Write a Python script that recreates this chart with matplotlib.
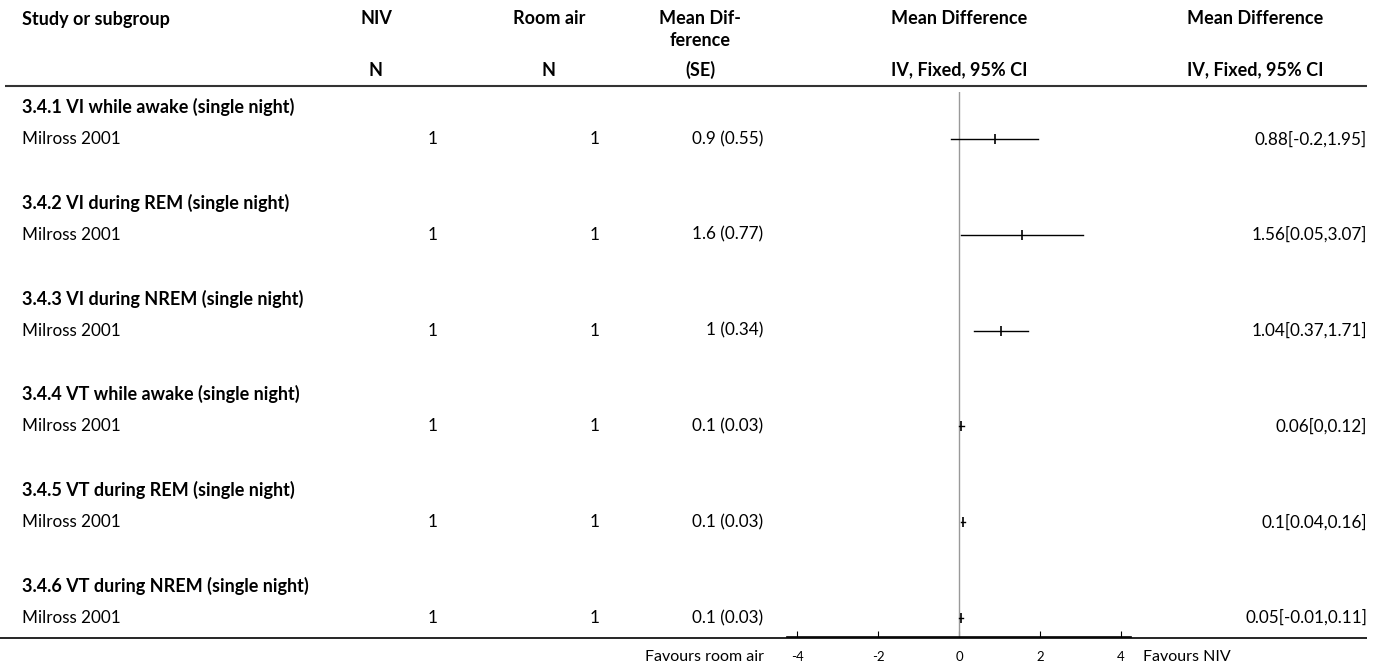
import matplotlib
matplotlib.use('Agg')
import matplotlib.pyplot as plt

# Data
subgroups = [
    "3.4.1 VI while awake (single night)",
    "3.4.2 VI during REM (single night)",
    "3.4.3 VI during NREM (single night)",
    "3.4.4 VT while awake (single night)",
    "3.4.5 VT during REM (single night)",
    "3.4.6 VT during NREM (single night)",
]
studies = ["Milross 2001"] * 6
niv_n = [1, 1, 1, 1, 1, 1]
room_n = [1, 1, 1, 1, 1, 1]
md_se_text = ["0.9 (0.55)", "1.6 (0.77)", "1 (0.34)", "0.1 (0.03)", "0.1 (0.03)", "0.1 (0.03)"]
md = [0.88, 1.56, 1.04, 0.06, 0.1, 0.05]
ci_lo = [-0.2, 0.05, 0.37, 0, 0.04, -0.01]
ci_hi = [1.95, 3.07, 1.71, 0.12, 0.16, 0.11]
xticks = [-4, -2, 0, 2, 4]

plt.rcParams['font.family'] = ['Lato', 'DejaVu Sans']
FS = 12.3   # regular text
FB = 13.0   # bold text

W, H = 1375, 669
fig = plt.figure(figsize=(W / 100, H / 100), dpi=100)

# row geometry (pixels)
TOP = 107.0
LINE = 31.93


def L(px):
    return (px - TOP) / LINE


# table axes covering whole figure: x in pixels, y in "line" units
ax = fig.add_axes([0, 0, 1, 1])
ax.set_xlim(0, W)
ax.set_ylim(L(H), L(0))
ax.axis('off')

# header
hy1, hy2, hy3 = L(19), L(41), L(70)
hdr = dict(va='center', fontsize=FB, fontweight='bold')
ax.text(22, hy1, "Study or subgroup", ha='left', **hdr)
ax.text(376, hy1, "NIV", ha='center', **hdr)
ax.text(549, hy1, "Room air", ha='center', **hdr)
ax.text(700, hy1, "Mean Dif-", ha='center', **hdr)
ax.text(700, hy2, "ference", ha='center', **hdr)
ax.text(959, hy1, "Mean Difference", ha='center', **hdr)
ax.text(1255, hy1, "Mean Difference", ha='center', **hdr)
ax.text(376, hy3, "N", ha='center', **hdr)
ax.text(549, hy3, "N", ha='center', **hdr)
ax.text(700, hy3, "(SE)", ha='center', **hdr)
ax.text(959, hy3, "IV, Fixed, 95% CI", ha='center', **hdr)
ax.text(1255, hy3, "IV, Fixed, 95% CI", ha='center', **hdr)
ax.plot([5, 1367], [L(86), L(86)], color='#333333', lw=1.5, solid_capstyle='butt')

# rows
for i, sg in enumerate(subgroups):
    yh = 3 * i
    ys = 3 * i + 1
    ax.text(22, yh, sg, ha='left', va='center', fontsize=FB, fontweight='bold')
    ax.text(22, ys, studies[i], ha='left', va='center', fontsize=FS)
    ax.text(438, ys, str(niv_n[i]), ha='right', va='center', fontsize=FS)
    ax.text(600, ys, str(room_n[i]), ha='right', va='center', fontsize=FS)
    ax.text(763, ys, md_se_text[i], ha='right', va='center', fontsize=FS)
    ax.text(1367, ys, f"{md[i]:g}[{ci_lo[i]:g},{ci_hi[i]:g}]", ha='right', va='center', fontsize=FS)

ax.plot([0, 1367], [L(638), L(638)], color='black', lw=1.2, solid_capstyle='butt')

# bottom labels
ax.text(764, L(657), "Favours room air", ha='right', va='center', fontsize=11.5)
ax.text(1143, L(657), "Favours NIV", ha='left', va='center', fontsize=11.5)

# forest axes
fx0, fx1 = 787, 1131
fy0, fy1 = 92, 637
axf = fig.add_axes([fx0 / W, (H - fy1) / H, (fx1 - fx0) / W, (fy1 - fy0) / H])
axf.set_xlim(-4.25, 4.25)
axf.set_ylim(L(fy1), L(fy0))
axf.patch.set_alpha(0)
for s in ['top', 'left', 'right']:
    axf.spines[s].set_visible(False)
axf.spines['bottom'].set_linewidth(1.2)
axf.set_yticks([])
axf.set_xticks(xticks)
axf.set_xticklabels([str(t) for t in xticks])
axf.tick_params(axis='x', direction='in', length=4, width=0.8, pad=10, labelsize=9.5)
axf.axvline(0, color='#999999', lw=1)

for i in range(len(md)):
    ys = 3 * i + 1
    axf.plot([ci_lo[i], ci_hi[i]], [ys, ys], color='black', lw=1)
    axf.plot(md[i], ys, marker='|', color='black', markersize=7, mew=1.2)

fig.savefig('out.png', dpi=100)
